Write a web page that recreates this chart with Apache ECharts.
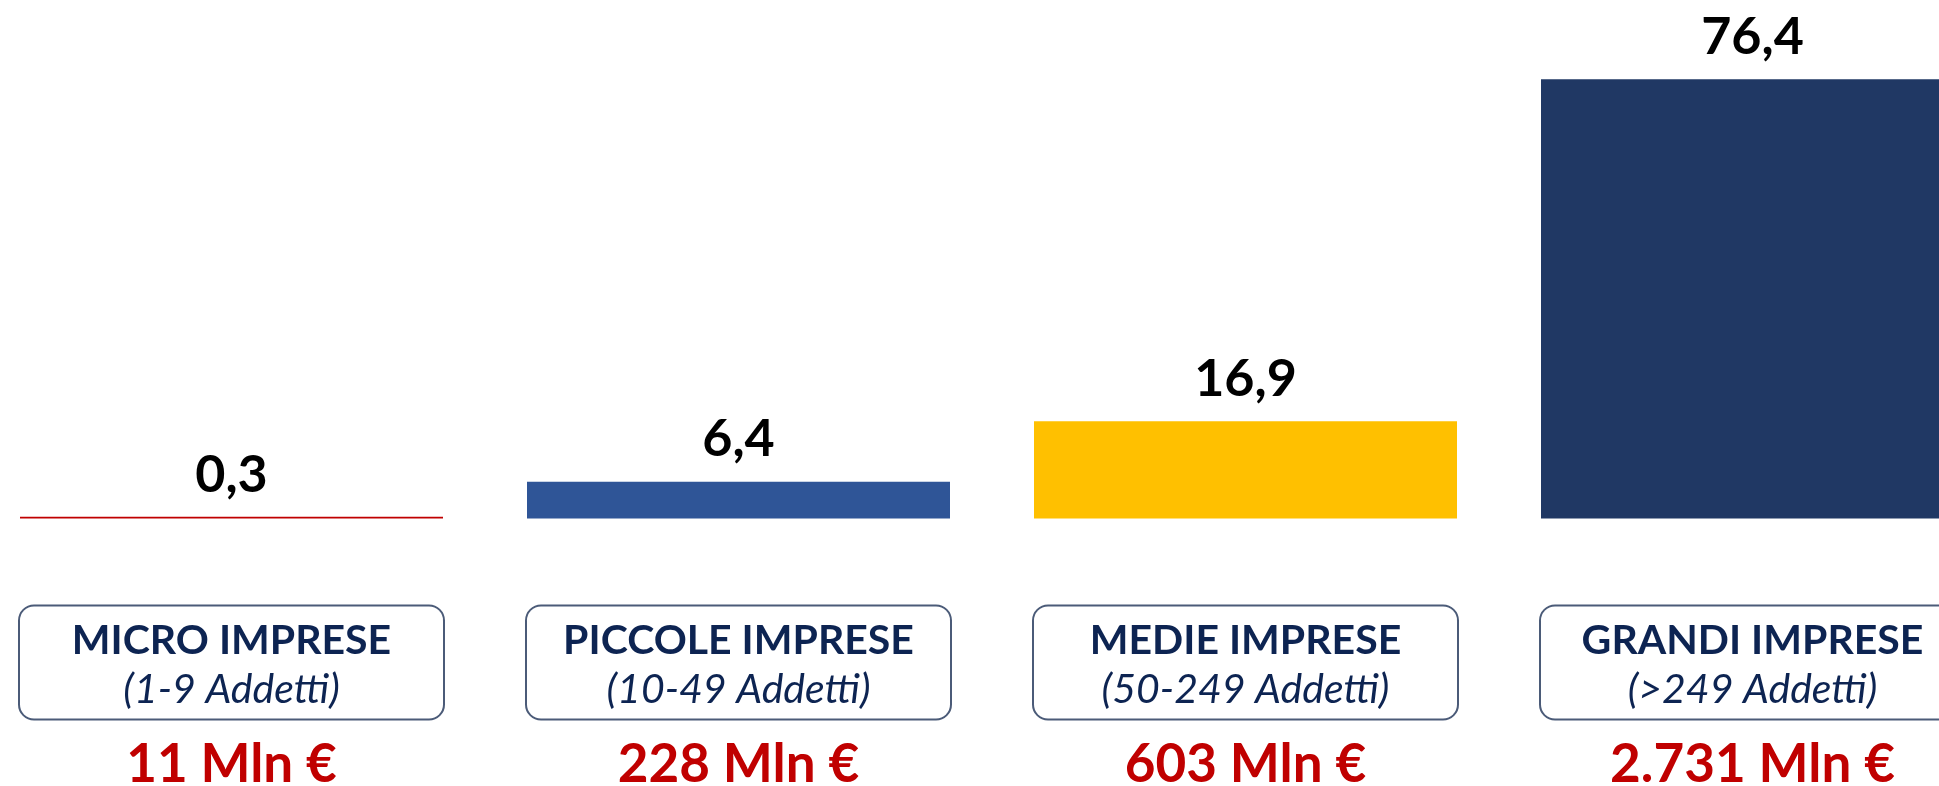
<!DOCTYPE html>
<html>
<head>
<meta charset="utf-8">
<script src="https://cdn.jsdelivr.net/npm/echarts@6/dist/echarts.min.js"></script>
<style>
  html, body { margin: 0; padding: 0; background: #fff; }
  #chart { width: 1939px; height: 786px; }
</style>
</head>
<body>
<div id="chart"></div>
<script>
// categories and values
var categories = ['MICRO IMPRESE', 'PICCOLE IMPRESE', 'MEDIE IMPRESE', 'GRANDI IMPRESE'];
var subtitles = ['(1-9 Addetti)', '(10-49 Addetti)', '(50-249 Addetti)', '(>249 Addetti)'];
var shares = [0.3, 6.4, 16.9, 76.4];
var amounts = ['11 Mln €', '228 Mln €', '603 Mln €', '2.731 Mln €'];

// bar colours, one per category
var palette = ['#C00000', '#2F5597', '#FFC000', '#203864'];

var FONT = 'Lato, "Noto Sans", sans-serif';

var chart = echarts.init(document.getElementById('chart'));

// ticks sit on the bar centres (boundaryGap false), the last bar runs off the page
chart.setOption({
  animation: false,
  backgroundColor: '#fff',
  grid: {
    left: 231.5, right: 186.5, top: 1, bottom: 267.5,
    containLabel: false,
    outerBoundsMode: 'none'
  },
  xAxis: [
    {
      type: 'category',
      data: categories,
      boundaryGap: false,
      axisLine: {show: false},
      axisTick: {show: false},
      axisLabel: {
        interval: 0,
        margin: 88,
        verticalAlign: 'top',
        width: 423,
        backgroundColor: '#fff',
        borderColor: '#4B5B78',
        borderWidth: 2,
        borderRadius: 14,
        padding: [10, 0, 4, 0],
        formatter: function (v, i) {
          return '{t|' + v + '}\n{s|' + subtitles[i] + '}';
        },
        rich: {
          t: {fontFamily: FONT, fontWeight: 'bold', fontSize: 41, color: '#0D2452',
              lineHeight: 48, align: 'center', width: 423},
          s: {fontFamily: FONT, fontStyle: 'italic', fontSize: 41, color: '#0D2452',
              lineHeight: 50, align: 'center', width: 423}
        }
      }
    },
    {
      type: 'category',
      data: categories,
      boundaryGap: false,
      position: 'bottom',
      axisLine: {show: false},
      axisTick: {show: false},
      axisLabel: {
        interval: 0,
        margin: 220,
        verticalAlign: 'top',
        fontFamily: FONT,
        fontWeight: 'bold',
        fontSize: 53,
        lineHeight: 53,
        color: '#C00000',
        formatter: function (v, i) { return amounts[i]; }
      }
    }
  ],
  yAxis: {
    type: 'value',
    min: 0,
    max: 90,
    show: false,
    splitLine: {show: false}
  },
  series: [{
    type: 'bar',
    xAxisIndex: 0,
    barWidth: 423,
    clip: false,
    data: shares.map(function (v, i) {
      return {value: v, itemStyle: {color: palette[i]}};
    }),
    label: {
      show: true,
      position: 'top',
      distance: 16,
      fontFamily: FONT,
      fontWeight: 'bold',
      fontSize: 52,
      color: '#000',
      formatter: function (p) { return String(p.value).replace('.', ','); }
    }
  }]
});
</script>
</body>
</html>
